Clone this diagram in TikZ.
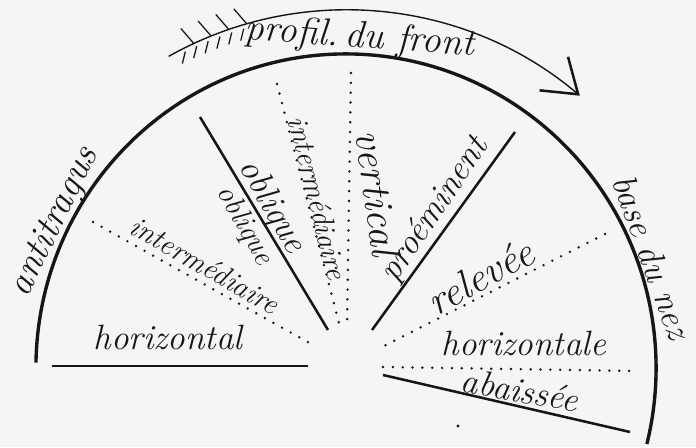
\documentclass[tikz,border=0pt]{standalone}
\usepackage{fontspec}
\usepackage{tikz}
\usetikzlibrary{arrows.meta,calc}
\definecolor{ink}{HTML}{161616}
\definecolor{paper}{HTML}{F5F5F5}

\begin{document}
\begin{tikzpicture}[
  x=0.025cm, y=0.025cm,
  font=\itshape\fontsize{25}{28}\selectfont,
  lbl/.style={inner sep=0pt, text=ink},
  lbls/.style={lbl, font=\itshape\fontsize{21}{24}\selectfont},
  lblm/.style={lbl, font=\itshape\fontsize{27}{30}\selectfont},
  lblb/.style={lbl, font=\itshape\fontsize{29}{32}\selectfont},
  rim/.style={draw=ink, line width=2.4pt},
  ray/.style={draw=ink, line width=1.8pt},
  dotray/.style={draw=ink, line width=1.9pt, line cap=round, dash pattern=on 0pt off 7pt},
  fletch/.style={draw=ink, line width=0.9pt},
]
\fill[paper] (0,0) rectangle (696,-447);
\useasboundingbox (0,0) rectangle (696,-447);
\coordinate (O) at (346,-368);
% ---------- profile arc ----------
\draw[rim] (O) ++(179:7.75cm and 7.85cm)
  arc[start angle=179, end angle=-14, x radius=7.75cm, y radius=7.85cm];
% ---------- arrow of the front ----------
\draw[draw=ink, line width=1pt, -{Straight Barb[length=0.8cm, width=1.1cm, line width=1.8pt]}]
  (O) ++(119.5:9cm and 8.95cm) arc[start angle=119.5, end angle=49.5, x radius=9cm, y radius=8.95cm];
\foreach \a in {115,112,109,106}
  \draw[fletch] (O) ++(\a:9cm and 8.95cm) -- ++(-13,15);
\foreach \a in {116.5,114.5,112.5,110.5,108.5,106.5}
  \draw[fletch] (O) ++(\a:9cm and 8.95cm) ++(0,-4) -- ++(-3,-12);
% ---------- solid rays ----------
\draw[ray] (52,-366) -- (308,-366);
\draw[ray] (200,-117) -- (328,-330);
\draw[ray] (515,-132) -- (372,-330);
\draw[ray] (383,-375) -- (630,-432);
% ---------- dotted rays ----------
\draw[dotray] (93,-222) -- (313,-345);
\draw[dotray] (277,-84) -- (340,-327);
\draw[dotray] (351,-73) -- (347,-327);
\draw[dotray] (605,-234) -- (380,-348);
\draw[dotray] (383,-367) -- (638,-371);
\fill[ink] (458,-426) circle (1.2pt);
% ---------- labels ----------
\node[lblm, rotate=64] (lantitragus) at (55,-222) {antitragus};
\node[lbl, rotate=-70] (lbase) at (652,-257) {base du nez};
\node[lblm, rotate=-4] (lprofil) at (360,-38) {profil.\,du front};
\node[lbls, rotate=-30] (linterA) at (205,-265) {intermédiaire};
\node[lbl] (lhoriz) at (168,-337) {horizontal};
\node[lbl, rotate=-60, anchor=base] (lobliqueA) at (264,-211) {oblique};
\node[lbls, rotate=-60, anchor=north] (lobliqueB) at (256,-219) {oblique};
\node[lbls, rotate=-76] (linterB) at (318,-198) {intermédiaire};
\node[lblb, rotate=-82] (lvert) at (378,-193) {vertical};
\node[lbl, rotate=56] (lproem) at (435,-210) {proéminent};
\node[lblb, rotate=29, anchor=base] (lrelev) at (487,-289) {relevée};
\node[lbl] (lhorizB) at (524,-343) {horizontale};
\node[lbl, rotate=-10] (labaiss) at (520,-390) {abaissée};
\end{tikzpicture}
\end{document}
